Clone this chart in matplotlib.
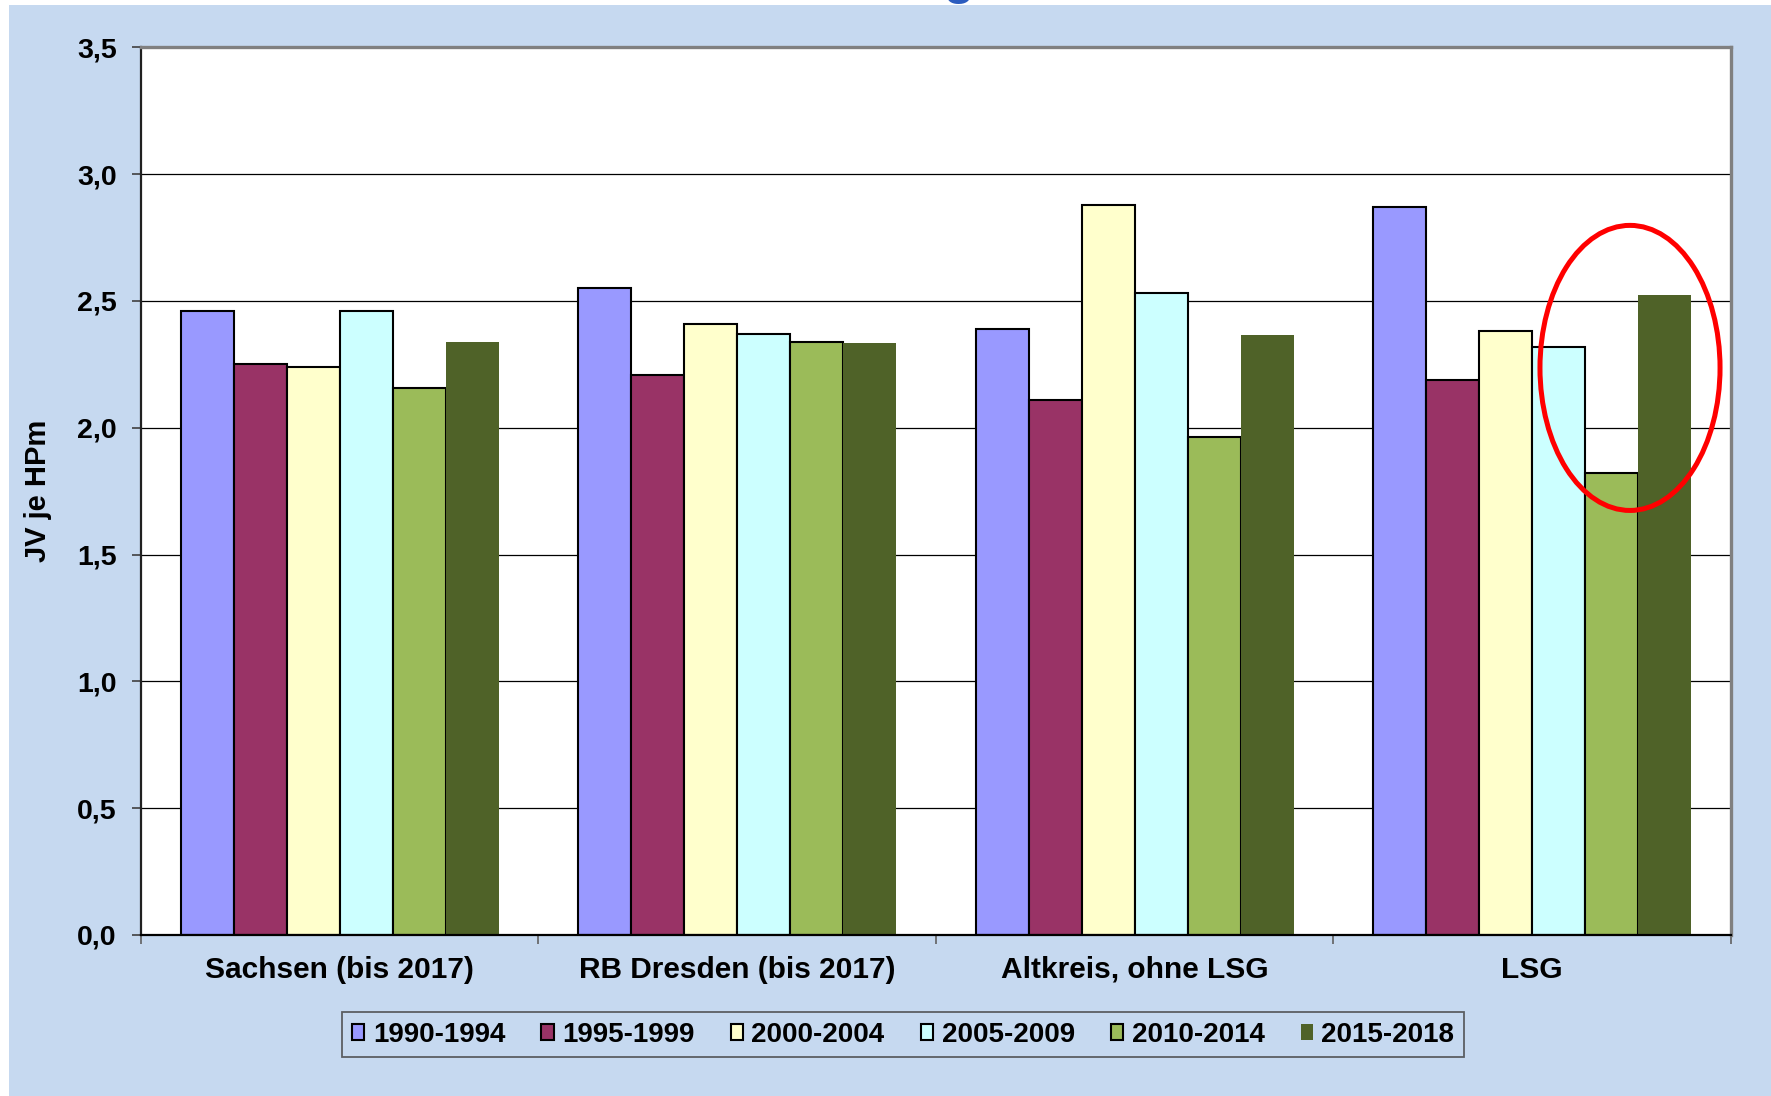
import matplotlib
matplotlib.use("Agg")
from matplotlib import pyplot as plt
from matplotlib.patches import Ellipse, Rectangle
from matplotlib.ticker import FuncFormatter, FixedLocator
import numpy as np

# data
regions = ["Sachsen (bis 2017)", "RB Dresden (bis 2017)", "Altkreis, ohne LSG", "LSG"]
periods = ["1990-1994", "1995-1999", "2000-2004", "2005-2009", "2010-2014", "2015-2018"]
v_1990 = [2.46, 2.55, 2.39, 2.87]
v_1995 = [2.25, 2.21, 2.11, 2.19]
v_2000 = [2.24, 2.41, 2.88, 2.38]
v_2005 = [2.46, 2.37, 2.53, 2.32]
v_2010 = [2.155, 2.34, 1.965, 1.82]
v_2015 = [2.34, 2.335, 2.365, 2.525]
series = [v_1990, v_1995, v_2000, v_2005, v_2010, v_2015]

colors = ["#9999FF", "#993366", "#FFFFCC", "#CCFFFF", "#9BBB59", "#4F6228"]
edges = ["black", "black", "black", "black", "black", "none"]
bg_color = "#C6D9F0"

plt.rcParams["font.family"] = ["Liberation Sans", "DejaVu Sans"]
plt.rcParams["font.weight"] = "bold"

fig = plt.figure(figsize=(17.71, 10.96), dpi=100, facecolor="white")
# light blue background, white strip on the left and top
fig.add_artist(Rectangle((9 / 1771, 0), 1, 1 - 5 / 1096, transform=fig.transFigure,
                         facecolor=bg_color, edgecolor="none", zorder=-5))

# remnant of cut-off title
fig.text(0.5415, 1.0059, "g", fontsize=36, ha="center", va="baseline",
         color="#2B5CBF", fontweight="bold")

ax = fig.add_axes([0.0796, 0.1469, 0.8978, 0.8099])
ax.set_facecolor("white")

x = np.arange(len(regions)) + 0.5
width = 0.8 / 6
handles = []
for i, vals in enumerate(series):
    offs = x - 0.4 + width * (i + 0.5)
    b = ax.bar(offs, vals, width, color=colors[i], edgecolor=edges[i],
               linewidth=1.5, label=periods[i], zorder=3)
    handles.append(b)

ax.set_xlim(0, 4)
ax.set_ylim(0, 3.5)
ax.set_yticks(np.arange(0, 3.51, 0.5))
ax.yaxis.set_major_formatter(FuncFormatter(lambda v, p: f"{v:.1f}".replace(".", ",")))
ax.grid(axis="y", color="black", linewidth=0.9, zorder=0)
ax.set_axisbelow(True)

ax.xaxis.set_major_locator(FixedLocator([0, 1, 2, 3, 4]))
ax.xaxis.set_major_formatter(FuncFormatter(lambda v, p: ""))
ax.xaxis.set_minor_locator(FixedLocator(x))
ax.set_xticklabels(regions, minor=True)
ax.tick_params(axis="x", which="major", direction="out", length=6.5, width=1.2, color="#606060")
ax.tick_params(axis="x", which="minor", length=0, pad=15, labelsize=21.5)
ax.tick_params(axis="y", direction="out", length=6.5, width=1.2, pad=11, labelsize=20.5, color="#404040")
for lab in ax.get_xticklabels(minor=True) + ax.get_yticklabels():
    lab.set_fontweight("bold")

ax.set_ylabel("JV je HPm", fontsize=21, fontweight="bold")
ax.yaxis.set_label_coords(-0.056, 0.5)

ax.spines["left"].set_color("#202020")
ax.spines["left"].set_linewidth(1.6)
ax.spines["bottom"].set_color("black")
ax.spines["bottom"].set_linewidth(1.6)
ax.spines["bottom"].set_zorder(4)
for s in ["top", "right"]:
    ax.spines[s].set_color("#808080")
    ax.spines[s].set_linewidth(2.4)

# red ellipse highlighting LSG
ax.add_patch(Ellipse((3.746, 2.236), 0.453, 1.124, fill=False, edgecolor="#FF0000",
                     linewidth=3.6, zorder=5))

leg = fig.legend(handles=handles, labels=periods, loc="center", bbox_to_anchor=(0.510, 0.056),
                 ncol=6, frameon=True, fancybox=False, handlelength=0.45,
                 handleheight=0.5, handletextpad=0.3, columnspacing=1.3,
                 borderpad=0.35, prop={"weight": "bold", "size": 20})
leg.get_frame().set_facecolor("none")
leg.get_frame().set_edgecolor("#404040")
leg.get_frame().set_linewidth(1.3)

fig.savefig("out.png", dpi=100, facecolor=fig.get_facecolor())
